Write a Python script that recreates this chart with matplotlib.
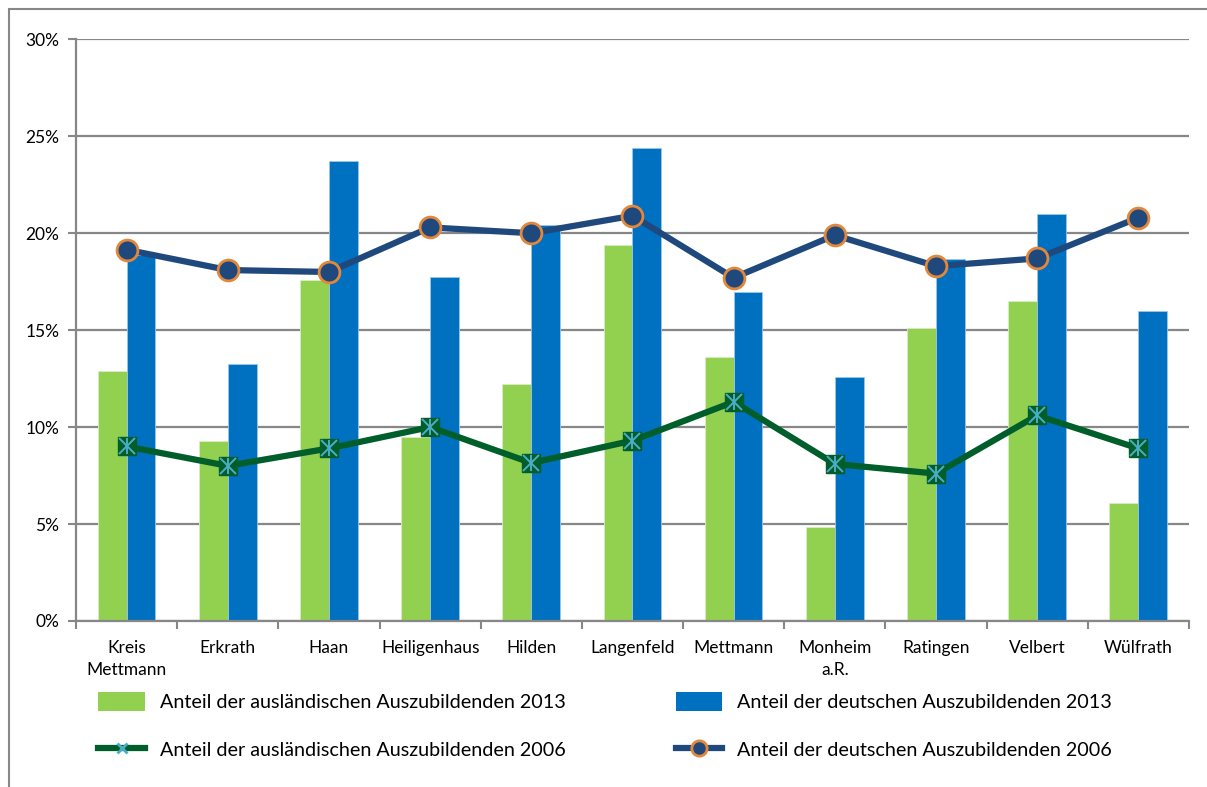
import matplotlib
matplotlib.use("Agg")
import matplotlib.pyplot as plt
import numpy as np
from matplotlib.lines import Line2D
from matplotlib.patches import Patch, Rectangle
from matplotlib.legend_handler import HandlerTuple

plt.rcParams["font.family"] = ["Lato", "DejaVu Sans"]

orte = ["Kreis\nMettmann", "Erkrath", "Haan", "Heiligenhaus", "Hilden", "Langenfeld",
        "Mettmann", "Monheim\na.R.", "Ratingen", "Velbert", "Wülfrath"]
ausl_2013 = [12.9, 9.3, 17.6, 9.5, 12.2, 19.4, 13.6, 4.85, 15.1, 16.5, 6.1]
deut_2013 = [18.9, 13.25, 23.75, 17.75, 20.4, 24.4, 16.95, 12.6, 18.65, 21.0, 16.0]
ausl_2006 = [9.0, 8.0, 8.9, 10.0, 8.15, 9.3, 11.3, 8.1, 7.6, 10.6, 8.9]
deut_2006 = [19.15, 18.1, 18.0, 20.3, 20.0, 20.9, 17.7, 19.9, 18.3, 18.7, 20.8]

GREEN_BAR, BLUE_BAR = "#92D050", "#0070C0"
GREEN_LINE, NAVY = "#005E2A", "#1F497D"
TEAL, ORANGE = "#4BACC6", "#E3873A"
GRID = "#878787"

fig = plt.figure(figsize=(12.07, 7.87), dpi=100)
ax = fig.add_axes([0.063, 0.211, 0.922, 0.739])

# outer frame of the chart area
fig.patches.append(Rectangle((9 / 1207, -0.1), 1.2, 1 - 9 / 787 + 0.1,
                             transform=fig.transFigure, fill=False,
                             edgecolor=GRID, linewidth=1.5))

x = np.arange(len(orte))
w = 0.285
ax.bar(x - w / 2, ausl_2013, w, color=GREEN_BAR, edgecolor="#d8edc4",
       linewidth=0.6, zorder=2)
ax.bar(x + w / 2, deut_2013, w, color=BLUE_BAR, edgecolor="#9cc6e6",
       linewidth=0.6, zorder=2)

ax.plot(x, ausl_2006, color=GREEN_LINE, linewidth=4.5, marker="s",
        markersize=13.5, markerfacecolor=GREEN_LINE,
        markeredgecolor=GREEN_LINE, zorder=3)
# asterisk inside the square markers
ax.plot(x, ausl_2006, linestyle="none", marker="x", markersize=12,
        markeredgecolor=TEAL, markeredgewidth=1.4, zorder=4)
ax.plot(x, ausl_2006, linestyle="none", marker="|", markersize=12,
        markeredgecolor=TEAL, markeredgewidth=1.4, zorder=4)
ax.plot(x, deut_2006, color=NAVY, linewidth=4.5, marker="o",
        markersize=15, markerfacecolor=NAVY, markeredgecolor=ORANGE,
        markeredgewidth=2, zorder=3)

ax.set_xlim(-0.5, len(orte) - 0.5)
ax.set_ylim(0, 30)
ax.set_yticks(np.arange(0, 31, 5))
ax.set_yticklabels([f"{v}%" for v in range(0, 31, 5)])
ax.yaxis.grid(True, color=GRID, linewidth=1.6, zorder=0)
ax.set_axisbelow(True)

ax.set_xticks(x)
ax.set_xticklabels(orte, linespacing=1.45)
ax.set_xticks(np.arange(-0.5, len(orte), 1), minor=True)
ax.tick_params(axis="x", which="major", length=0, pad=14, labelsize=12.5)
ax.tick_params(axis="x", which="minor", length=6, width=1.5, color=GRID)
ax.tick_params(axis="y", length=6, width=1.5, color=GRID, pad=6, labelsize=12.5)

for s in ["top", "right"]:
    ax.spines[s].set_visible(False)
for s in ["left", "bottom"]:
    ax.spines[s].set_color(GRID)
    ax.spines[s].set_linewidth(1.6)

h1 = Patch(facecolor=GREEN_BAR)
h2 = Patch(facecolor=BLUE_BAR)
h3 = (Line2D([], [], color=GREEN_LINE, linewidth=4.5),
      Line2D([], [], linestyle="none", marker="x", markersize=7,
             markeredgecolor=TEAL, markeredgewidth=2))
h4 = Line2D([], [], color=NAVY, linewidth=4.5, marker="o", markersize=11,
            markerfacecolor=NAVY, markeredgecolor=ORANGE, markeredgewidth=2)
fig.legend([h1, h3, h2, h4],
           ["Anteil der ausländischen Auszubildenden 2013",
            "Anteil der ausländischen Auszubildenden 2006",
            "Anteil der deutschen Auszubildenden 2013",
            "Anteil der deutschen Auszubildenden 2006"],
           handler_map={tuple: HandlerTuple(ndivide=1, pad=0)},
           ncol=2, loc="upper left", bbox_to_anchor=(0.075, 0.131),
           frameon=False, fontsize=14.2, handlelength=2.35, handleheight=1.1,
           handletextpad=0.75, columnspacing=5.6, labelspacing=1.45,
           borderaxespad=0)

fig.savefig("out.png", dpi=100)
